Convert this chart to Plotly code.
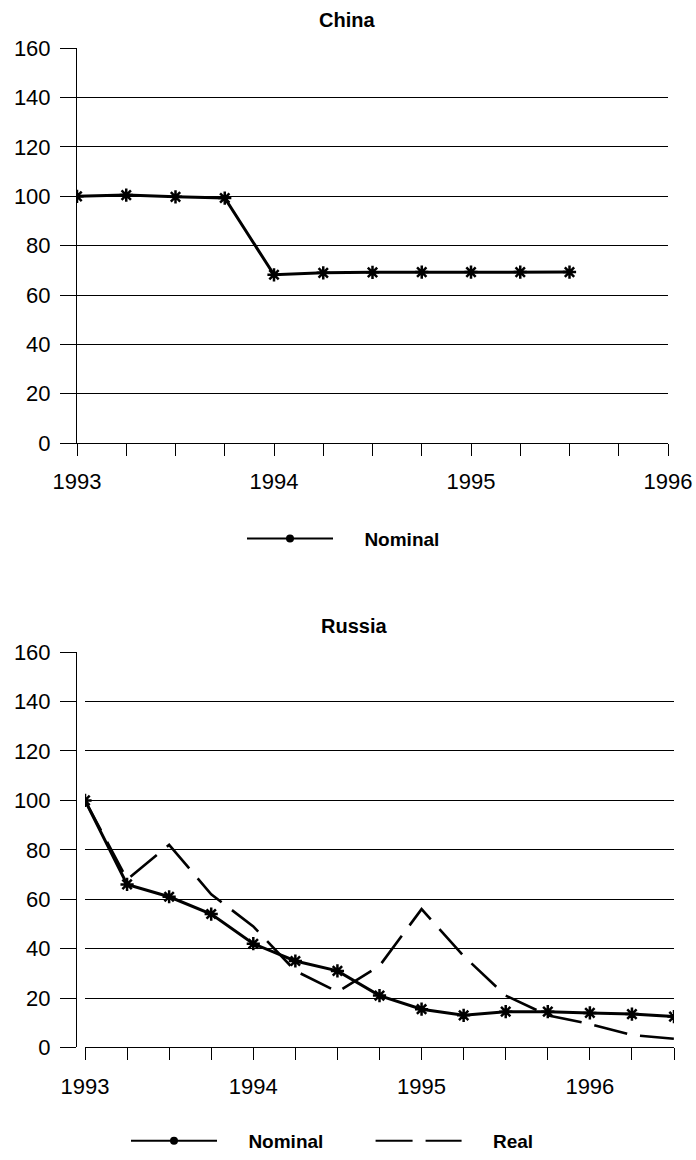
import plotly.graph_objects as go

# ---------------- data ----------------
china_x = [1993.0, 1993.25, 1993.5, 1993.75, 1994.0, 1994.25, 1994.5, 1994.75, 1995.0, 1995.25, 1995.5]
china_nominal = [100, 100.5, 99.8, 99.3, 68.2, 69.0, 69.2, 69.3, 69.3, 69.3, 69.3]

russia_x = [1993.0, 1993.25, 1993.5, 1993.75, 1994.0, 1994.25, 1994.5, 1994.75,
            1995.0, 1995.25, 1995.5, 1995.75, 1996.0, 1996.25, 1996.5]
russia_nominal = [100, 66, 61, 54, 42, 35, 31, 21, 15.5, 13, 14.5, 14.5, 14, 13.5, 12.5]
russia_real = [100, 68, 82, 62, 49, 31, 22.5, 33, 56, 37, 21, 13, 9.5, 5, 3.5]

y_ticks = [0, 20, 40, 60, 80, 100, 120, 140, 160]
china_xticks = [1993 + 0.25 * i for i in range(13)]
russia_xticks = [1993 + 0.25 * i for i in range(15)]
year_labels = {1993.0: "1993", 1994.0: "1994", 1995.0: "1995", 1996.0: "1996"}

FONT = "Liberation Sans, Arial, sans-serif"
W, H = 696, 1160
NB = "\u00a0"

fig = go.Figure()

line_nom = dict(color="black", width=3)
marker_ast = dict(symbol="asterisk-open", size=11, color="black", line=dict(color="black", width=2.5))

# China
fig.add_trace(go.Scatter(x=china_x, y=china_nominal, mode="lines+markers", line=line_nom,
                         marker=marker_ast, showlegend=False, xaxis="x", yaxis="y"))
fig.add_trace(go.Scatter(x=[None], y=[None], mode="lines+markers", name=NB * 5 + "Nominal",
                         line=dict(color="black", width=2),
                         marker=dict(symbol="circle", size=8, color="black"),
                         legend="legend", xaxis="x", yaxis="y"))

# Russia
fig.add_trace(go.Scatter(x=russia_x, y=russia_real, mode="lines",
                         line=dict(color="black", width=2.6, dash="34px,13px"),
                         showlegend=False, xaxis="x2", yaxis="y2"))
fig.add_trace(go.Scatter(x=russia_x, y=russia_nominal, mode="lines+markers", line=line_nom,
                         marker=marker_ast, showlegend=False, xaxis="x2", yaxis="y2"))
fig.add_trace(go.Scatter(x=[None], y=[None], mode="lines+markers",
                         name=NB * 5 + "Nominal" + NB * 8,
                         line=dict(color="black", width=2),
                         marker=dict(symbol="circle", size=8, color="black"),
                         legend="legend2", xaxis="x2", yaxis="y2"))
fig.add_trace(go.Scatter(x=[None], y=[None], mode="lines", name=NB * 5 + "Real",
                         line=dict(color="black", width=2, dash="37px,13px"),
                         legend="legend2", xaxis="x2", yaxis="y2"))

def yax(domain):
    return dict(domain=domain, range=[0, 160], tickvals=y_ticks, showgrid=True,
                gridcolor="black", gridwidth=1, zeroline=False, showline=True,
                linecolor="black", linewidth=1, ticks="outside", ticklen=16,
                tickcolor="black", tickfont=dict(family=FONT, size=22, color="black"),
                ticklabelstandoff=5, fixedrange=True, automargin=False)

def xax(domain, rng, ticks, anchor):
    return dict(domain=domain, range=rng, tickvals=ticks,
                ticktext=[year_labels.get(t, "") for t in ticks],
                showgrid=False, zeroline=False, showline=True, linecolor="black",
                linewidth=1, ticks="outside", ticklen=12, tickcolor="black",
                tickfont=dict(family=FONT, size=22, color="black"),
                ticklabelstandoff=7, anchor=anchor, fixedrange=True, automargin=False)

legend_font = dict(family=FONT, size=19, color="black", weight="bold")

fig.update_layout(
    template="none",
    width=W, height=H, margin=dict(l=0, r=0, t=0, b=0),
    paper_bgcolor="white", plot_bgcolor="white",
    xaxis=xax([77 / W, 668 / W], [1993, 1996], china_xticks, "y"),
    yaxis=yax([1 - 445 / H, 1 - 48.5 / H]),
    xaxis2=xax([85 / W, 674 / W], [1993, 1996.5], russia_xticks, "y2"),
    yaxis2=yax([1 - 1052 / H, 1 - 655 / H]),
    legend=dict(x=242 / W, xanchor="left", y=1 - 541 / H, yanchor="middle",
                orientation="h", font=legend_font, bgcolor="rgba(0,0,0,0)",
                itemwidth=86, borderwidth=0),
    legend2=dict(x=126 / W, xanchor="left", y=1 - 1146 / H, yanchor="middle",
                 orientation="h", font=legend_font, bgcolor="rgba(0,0,0,0)",
                 itemwidth=86, borderwidth=0),
    annotations=[
        dict(text="<b>China</b>", x=346.5 / W, y=1 - 20 / H, xref="paper", yref="paper",
             xanchor="center", yanchor="middle", showarrow=False,
             font=dict(family=FONT, size=20, color="black")),
        dict(text="<b>Russia</b>", x=354 / W, y=1 - 629 / H, xref="paper", yref="paper",
             xanchor="center", yanchor="middle", showarrow=False,
             font=dict(family=FONT, size=20, color="black")),
    ],
)

# remove the browser's default 8px body margin so the figure sits at the page origin
fig.write_html("out.html", config={"displayModeBar": False, "staticPlot": True},
               post_script="document.body.style.margin='0';document.body.style.overflow='hidden';")
